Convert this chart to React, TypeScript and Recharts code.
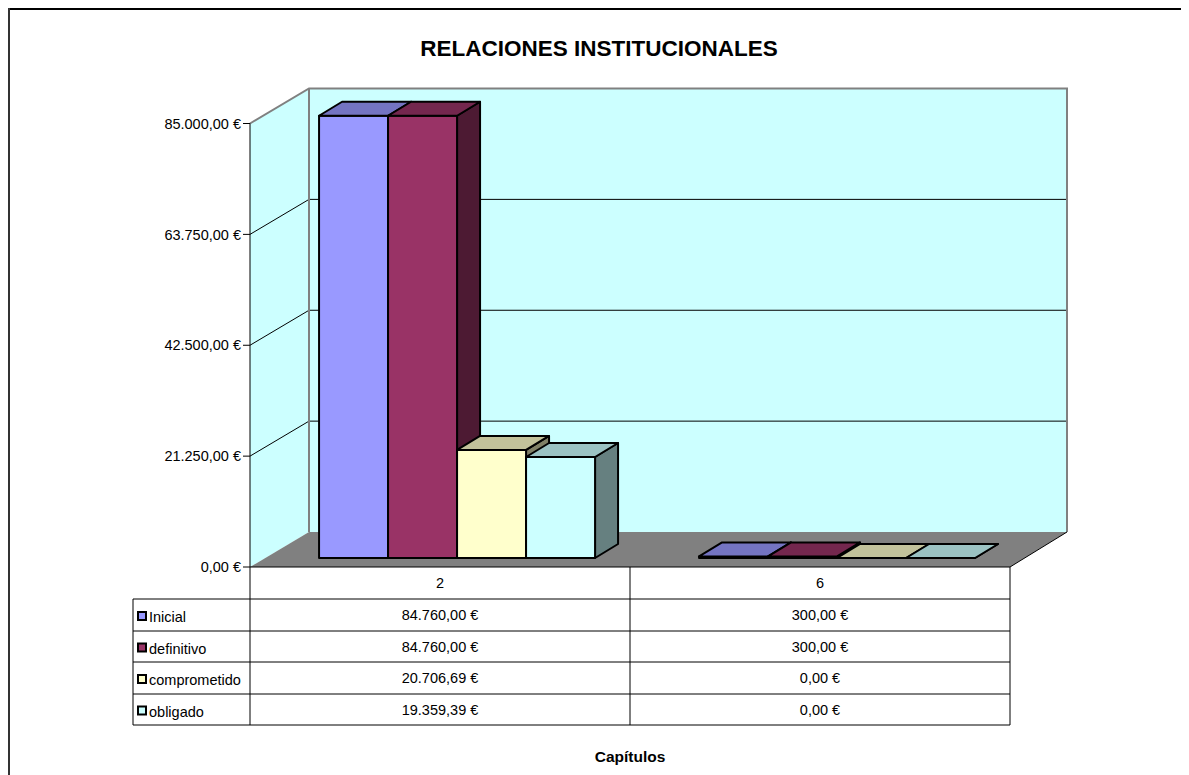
import { Bar, BarChart, XAxis, YAxis } from "recharts";

// chart values
const categories = ["2", "6"];
const seriesNames = ["Inicial", "definitivo", "comprometido", "obligado"];
const inicial = [84760, 300];
const definitivo = [84760, 300];
const comprometido = [20706.69, 0];
const obligado = [19359.39, 0];
const yTicks = [0, 21250, 42500, 63750, 85000];
const seriesColors = ["#9999FF", "#993366", "#FFFFCC", "#CCFFFF"];

const seriesValues = [inicial, definitivo, comprometido, obligado];
const data = categories.map((name, i) => {
  const row: Record<string, string | number> = { name };
  seriesNames.forEach((s, k) => (row[s] = seriesValues[k][i]));
  return row;
});

// layout (svg coords, page minus body margin)
const W = 1181;
const H = 767;
const PL = 242;
const PR = 1002;
const PT = 115.5;
const PB = 559;
const DX = 59;
const DY = -35;
const ROWS = [591, 623, 654, 686, 717];
const TABLE_LEFT = 125;
const MID = (PL + PR) / 2;
const YMAX = yTicks[yTicks.length - 1];
const FONT = "'Liberation Sans', Arial, sans-serif";
const FS = 14.5;

function euro(v: number) {
  const [i, d] = v.toFixed(2).split(".");
  return `${i.replace(/\B(?=(\d{3})+(?!\d))/g, ".")},${d} €`;
}

function shade(hex: string, f: number) {
  const n = parseInt(hex.slice(1), 16);
  const c = [(n >> 16) & 255, (n >> 8) & 255, n & 255].map((v) => Math.round(v * f));
  return `rgb(${c[0]},${c[1]},${c[2]})`;
}

const yPos = (v: number) => PB - (v / YMAX) * (PB - PT);

// 3d box for each bar
function Box3D(props: any) {
  const { x, y, width, height, fill } = props;
  if (x == null || y == null) return null;
  const sx = 17;
  const sy = -9;
  const dx = 23;
  const dy = -14;
  const fx = x + sx;
  const fy = y + sy;
  const w = width;
  const h = Math.max(height, 0);
  const top = `${fx},${fy} ${fx + dx},${fy + dy} ${fx + w + dx},${fy + dy} ${fx + w},${fy}`;
  const side = `${fx + w},${fy} ${fx + w + dx},${fy + dy} ${fx + w + dx},${fy + h + dy} ${fx + w},${fy + h}`;
  return (
    <g stroke="#000" strokeWidth={2} strokeLinejoin="round">
      <polygon points={side} fill={shade(fill, 0.5)} />
      <rect x={fx} y={fy} width={w} height={h} fill={fill} />
      <polygon points={top} fill={shade(fill, 0.76)} />
    </g>
  );
}

// one column of the data table, placed by the x axis
function TableColumn(props: any) {
  const { x, payload, index } = props;
  const i = index ?? categories.indexOf(payload.value);
  return (
    <g fontFamily={FONT} fontSize={FS} fill="#000" textAnchor="middle">
      <text x={x} y={(PB + ROWS[0]) / 2} dy="0.35em">
        {payload.value}
      </text>
      {seriesValues.map((vals, k) => (
        <text key={k} x={x} y={(ROWS[k] + ROWS[k + 1]) / 2} dy="0.35em">
          {euro(vals[i])}
        </text>
      ))}
    </g>
  );
}

function Background() {
  const back = { l: PL + DX, r: PR + DX - 2, t: PT + DY, b: PB + DY };
  return (
    <svg width={W} height={H} style={{ position: "absolute", left: 0, top: 0 }}>
      {/* frame */}
      <line x1={0} y1={1} x2={W} y2={1} stroke="#000" strokeWidth={2} />
      <line x1={1} y1={0} x2={1} y2={H} stroke="#333" strokeWidth={2} />
      <text x={591} y={40} textAnchor="middle" dy="0.35em" fontFamily={FONT} fontWeight="bold" fontSize={22.5}>
        RELACIONES INSTITUCIONALES
      </text>
      <text x={622} y={749} textAnchor="middle" dy="0.35em" fontFamily={FONT} fontWeight="bold" fontSize={15.5}>
        Capítulos
      </text>
      {/* walls */}
      <rect x={back.l} y={back.t} width={back.r - back.l} height={back.b - back.t} fill="#CCFFFF" />
      <polygon points={`${PL},${PT} ${back.l},${back.t} ${back.l},${back.b} ${PL},${PB}`} fill="#CCFFFF" />
      <polygon points={`${PL},${PB} ${back.l},${back.b} ${back.r},${back.b} ${PR},${PB}`} fill="#808080" />
      {yTicks.slice(1, -1).map((t) => (
        <g key={t} stroke="#000" strokeWidth={1}>
          <line x1={PL} y1={yPos(t)} x2={back.l} y2={yPos(t) + DY} />
          <line x1={back.l} y1={yPos(t) + DY} x2={back.r} y2={yPos(t) + DY} />
        </g>
      ))}
      <g stroke="#808080" strokeWidth={2} fill="none">
        <polyline points={`${PL},${PT} ${back.l},${back.t} ${back.r},${back.t} ${back.r},${back.b}`} />
        <line x1={back.l} y1={back.t} x2={back.l} y2={back.b} />
      </g>
      <line x1={PR} y1={PB} x2={back.r} y2={back.b} stroke="#000" strokeWidth={1} />
      {/* table grid */}
      <g stroke="#000" strokeWidth={1}>
        <line x1={PL} y1={PB} x2={PL} y2={ROWS[ROWS.length - 1]} />
        <line x1={MID} y1={PB} x2={MID} y2={ROWS[ROWS.length - 1]} />
        <line x1={PR} y1={PB} x2={PR} y2={ROWS[ROWS.length - 1]} />
        <line x1={TABLE_LEFT} y1={ROWS[0]} x2={TABLE_LEFT} y2={ROWS[ROWS.length - 1]} />
        {ROWS.map((r) => (
          <line key={r} x1={TABLE_LEFT} y1={r} x2={PR} y2={r} />
        ))}
      </g>
      {seriesNames.map((s, k) => {
        const cy = (ROWS[k] + ROWS[k + 1]) / 2 + 1;
        return (
          <g key={s}>
            <rect x={TABLE_LEFT + 5} y={cy - 4} width={8} height={8} fill={seriesColors[k]} stroke="#000" strokeWidth={2} />
            <text x={TABLE_LEFT + 16} y={cy + 1} dy="0.35em" fontFamily={FONT} fontSize={FS}>
              {s}
            </text>
          </g>
        );
      })}
    </svg>
  );
}

export default function App() {
  return (
    <div style={{ position: "relative", width: W, height: H }}>
      <Background />
      <div style={{ position: "absolute", left: 0, top: 0 }}>
        <BarChart
          width={W}
          height={H}
          data={data}
          margin={{ top: PT, right: W - PR, left: PL - 100, bottom: H - PB - 160 }}
          barCategoryGap="13.7%"
          barGap={0}
        >
          <XAxis
            dataKey="name"
            height={160}
            axisLine={{ stroke: "#000" }}
            tickLine={false}
            tick={<TableColumn />}
            interval={0}
          />
          <YAxis
            width={100}
            domain={[0, YMAX]}
            ticks={yTicks}
            tickFormatter={euro}
            axisLine={{ stroke: "#000" }}
            tickLine={{ stroke: "#000" }}
            tickSize={7}
            tickMargin={2}
            tick={{ fill: "#000", fontSize: FS, fontFamily: FONT }}
          />
          {seriesNames.map((s, k) => (
            <Bar
              key={s}
              dataKey={s}
              fill={seriesColors[k]}
              shape={<Box3D />}
              isAnimationActive={false}
            />
          ))}
        </BarChart>
      </div>
    </div>
  );
}
